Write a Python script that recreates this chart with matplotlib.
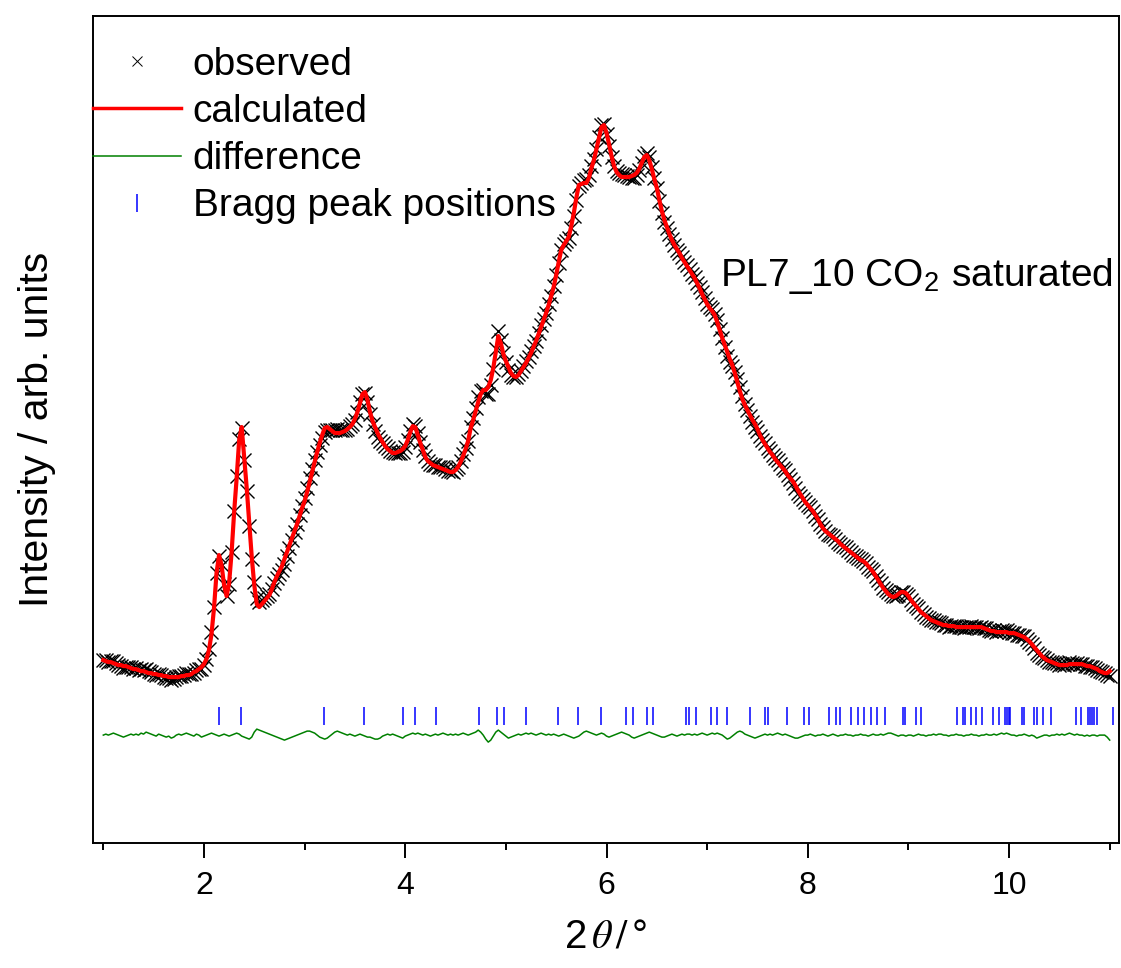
import numpy as np
import matplotlib.pyplot as plt

plt.rcParams['font.family'] = 'Liberation Sans'
plt.rcParams['mathtext.fontset'] = 'stix'

# calculated profile, 2theta = 1.000 ... 11.000 deg in 0.025 deg steps (10 points per row)
calc = [
    60, 59, 58, 58, 57, 56, 55, 55, 54, 54,
    53, 52, 51, 51, 50, 49, 49, 48, 47, 47,
    46, 46, 45, 45, 44, 44, 43, 43, 43, 43,
    43, 44, 44, 45, 45, 46, 48, 49, 51, 53,
    56, 61, 70, 86, 112, 147, 165, 155, 135, 124,
    137, 168, 208, 242, 280, 293, 262, 232, 198, 163,
    135, 116, 113, 116, 119, 122, 125, 131, 138, 144,
    149, 154, 161, 168, 175, 182, 189, 196, 204, 212,
    219, 228, 238, 248, 258, 268, 277, 285, 292, 293,
    291, 289, 287, 287, 287, 288, 289, 291, 293, 296,
    301, 308, 317, 326, 328, 320, 308, 299, 293, 287,
    282, 278, 274, 271, 269, 267, 267, 268, 269, 271,
    274, 280, 288, 294, 293, 285, 277, 270, 263, 259,
    257, 255, 254, 253, 252, 251, 250, 249, 248, 248,
    250, 253, 258, 264, 271, 279, 292, 300, 309, 318,
    326, 330, 330, 333, 340, 352, 368, 384, 377, 366,
    359, 353, 347, 344, 343, 345, 349, 353, 357, 362,
    367, 373, 379, 386, 393, 400, 407, 415, 424, 433,
    445, 458, 470, 475, 479, 483, 494, 507, 522, 535,
    536, 537, 537, 542, 552, 560, 571, 582, 593, 595,
    587, 576, 564, 554, 548, 545, 543, 543, 543, 543,
    544, 545, 547, 551, 557, 563, 565, 560, 551, 541,
    532, 520, 509, 500, 493, 486, 480, 475, 471, 467,
    462, 458, 454, 450, 446, 442, 437, 432, 426, 421,
    416, 412, 409, 405, 398, 390, 382, 375, 368, 361,
    355, 347, 338, 329, 321, 315, 310, 305, 300, 296,
    291, 285, 280, 276, 272, 268, 265, 261, 258, 255,
    252, 249, 245, 242, 239, 235, 230, 226, 222, 218,
    215, 212, 209, 205, 201, 196, 192, 189, 187, 185,
    183, 181, 179, 176, 174, 172, 170, 168, 166, 164,
    162, 160, 159, 157, 154, 151, 148, 144, 140, 136,
    132, 129, 126, 124, 123, 124, 126, 128, 128, 127,
    124, 120, 117, 114, 111, 108, 106, 104, 102, 100,
    99, 98, 97, 96, 95, 95, 94, 94, 94, 93,
    93, 93, 93, 93, 93, 93, 93, 93, 93, 93,
    92, 91, 90, 89, 89, 88, 88, 88, 88, 88,
    87, 87, 87, 86, 85, 84, 83, 81, 79, 76,
    73, 70, 67, 64, 62, 60, 59, 58, 57, 56,
    55, 55, 55, 55, 56, 56, 56, 56, 56, 56,
    55, 54, 54, 53, 52, 51, 49, 48, 47, 47,
    49,
]

# difference observed - calculated on the same grid
diff = [
    0, 1, 0, 1, 2, 1, 0, -1, -2, -1,
    0, 1, 0, 1, 0, 2, 1, 3, 2, 1,
    0, -1, 1, 0, -1, -2, -1, -3, -2, 0,
    1, 0, 1, 2, 1, 0, -1, 1, 0, -2,
    -1, 0, 1, 2, 1, 0, -1, 0, 1, 0,
    -1, 0, 1, 2, 1, -1, -2, -3, -4, -2,
    3, 6, 5, 4, 3, 2, 1, 0, -1, -2,
    -3, -4, -5, -4, -3, -2, -1, 0, 1, 2,
    3, 4, 4, 3, 2, 0, -2, -3, -4, -3,
    -1, 1, 3, 4, 3, 2, 1, 0, 1, 0,
    -1, 0, 1, 0, -1, -2, -2, -3, -4, -4,
    -3, -1, 0, 1, 0, 1, 0, -1, -2, -3,
    -1, 0, 1, 2, 1, 2, 1, 0, 1, 0,
    -1, 0, 1, 0, 1, 2, 1, 0, 1, 0,
    1, 0, 1, 2, 1, 0, 1, 2, 3, 5,
    3, 0, -4, -7, -5, -1, 3, 5, 3, 1,
    -1, -3, -2, -1, 0, 1, 0, 1, 2, 1,
    2, 1, 0, 1, 2, 1, 0, 1, 0, 1,
    0, -1, 0, 1, 0, -1, -2, -3, -2, -1,
    1, 3, 4, 3, 2, 1, 0, 1, 2, 1,
    -1, -2, -1, 0, 1, 2, 3, 2, 1, 0,
    -2, -3, -2, -1, 0, 1, 2, 3, 2, 1,
    0, -1, -2, -2, -1, 0, 1, 0, -1, 0,
    1, 0, 1, 1, 0, 1, 0, 1, 2, 1,
    0, 1, 2, 1, 2, 1, 0, -2, -4, -3,
    -1, 1, 3, 4, 3, 1, 0, -1, -2, -3,
    -2, -1, 0, 1, 0, 1, 0, 1, 2, 1,
    0, 1, 0, -1, -2, -3, -3, -2, -1, 0,
    0, 1, 0, -1, 0, 0, 1, 0, -1, 0,
    1, 0, -1, 0, 0, 1, 0, 0, -1, 0,
    0, 1, 0, 0, -1, 0, 1, 0, 0, 1,
    0, 1, 2, 2, 1, 0, -1, 0, 0, -1,
    0, 0, -1, 0, 1, 0, 0, -1, 0, 0,
    1, 0, 1, 1, 0, 0, -1, 0, 0, 1,
    0, 0, -1, 0, 0, 1, 0, 0, -1, 0,
    0, 1, 0, 0, 1, 0, 1, 2, 1, 2,
    1, 0, 0, -1, 0, 0, 1, 0, -1, 0,
    -1, -3, -2, -1, 0, 0, -1, 0, 0, 1,
    0, 1, 0, 1, 2, 1, 0, 1, 0, 0,
    -1, 0, -1, 0, 0, -1, 0, 0, 0, -2,
    -5,
]

# reflection positions (deg 2theta)
bragg = [
    2.149, 2.365, 3.197, 3.595, 3.980, 4.099, 4.306, 4.736, 4.915, 4.985,
    5.204, 5.519, 5.718, 5.947, 6.189, 6.262, 6.401, 6.461, 6.793, 6.823,
    6.889, 7.038, 7.098, 7.197, 7.430, 7.572, 7.602, 7.798, 7.967, 8.017,
    8.212, 8.276, 8.316, 8.431, 8.498, 8.554, 8.624, 8.687, 8.763, 8.942,
    8.968, 9.072, 9.127, 9.483, 9.545, 9.565, 9.622, 9.672, 9.728, 9.844,
    9.897, 9.960, 9.980, 10.000, 10.013, 10.126, 10.152, 10.246, 10.279, 10.341,
    10.421, 10.664, 10.713, 10.783, 10.803, 10.823, 10.843, 10.876, 11.030,
]

calc = np.array(calc, dtype=float)
diff = np.array(diff, dtype=float)
two_theta = 1.0 + 0.025 * np.arange(len(calc))
obs = calc + diff

diff_offset = -15
bragg_level = 4

fig = plt.figure(figsize=(11.21, 9.68), dpi=100)
ax = fig.add_axes([0.083, 0.129, 0.915, 0.8545])

ax.plot(two_theta, obs, 'x', color='black', markersize=10, markeredgewidth=1.0,
        label='observed')
ax.plot(two_theta, calc, '-', color='red', lw=3, label='calculated')
ax.plot(two_theta, diff + diff_offset, '-', color='green', lw=1.1,
        label='difference')
ax.plot(bragg, np.full(len(bragg), bragg_level), '|', color='blue',
        markersize=13, markeredgewidth=1.1, label='Bragg peak positions')

ax.set_xlim(0.898, 11.09)
ax.set_ylim(-123, 704)

ax.set_xticks([2, 4, 6, 8, 10])
ax.set_xticks([1, 3, 5, 7, 9, 11], minor=True)
ax.set_yticks([])
ax.tick_params(axis='x', which='major', direction='out', length=11, width=1.4,
               labelsize=23, pad=9)
ax.tick_params(axis='x', which='minor', direction='out', length=5, width=1.4)
for s in ax.spines.values():
    s.set_linewidth(1.4)

ax.set_xlabel(r'2$\,\theta\,/\,$°', fontsize=29, labelpad=12)
ax.set_ylabel('Intensity / arb. units', fontsize=29.5, labelpad=27)

ax.text(7.13, 434, r'PL7_10 CO$_\mathregular{2}$ saturated', fontsize=28,
        va='baseline', ha='left')

leg = ax.legend(loc='upper left', bbox_to_anchor=(0.0, 0.963), frameon=False,
                fontsize=28, handlelength=2.26, handletextpad=0.3, borderpad=0,
                borderaxespad=0, labelspacing=0.29)
leg_lines = leg.get_lines()
leg_lines[0].set_markersize(7)
leg_lines[0].set_markeredgewidth(0.7)
leg_lines[1].set_linewidth(2.5)

fig.savefig('out.png', dpi=100)
